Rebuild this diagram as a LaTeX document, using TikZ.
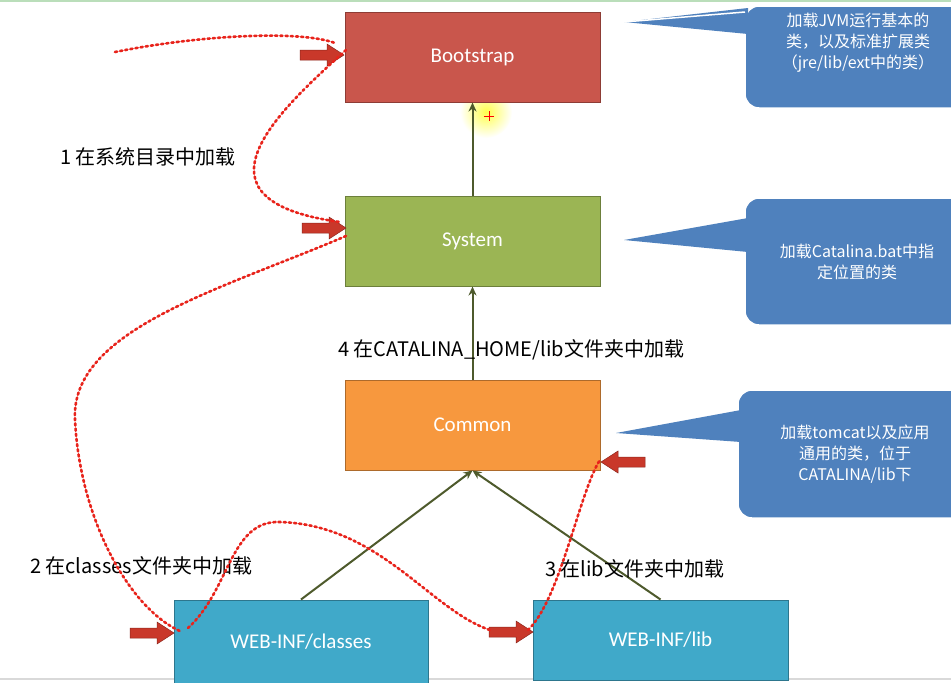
\documentclass[tikz,border=0pt]{standalone}
\usepackage{fontspec}
\setmainfont{Noto Sans CJK SC}
\newfontfamily\lat{Carlito}
\usetikzlibrary{arrows.meta}
\definecolor{bred}{HTML}{C9564C}
\definecolor{bgreen}{HTML}{9BB554}
\definecolor{borange}{HTML}{F7983E}
\definecolor{bteal}{HTML}{40A9C9}
\definecolor{cblue}{HTML}{4F81BD}
\definecolor{lnk}{HTML}{4E5A2C}
\definecolor{dotred}{HTML}{E8231B}
\definecolor{arred}{HTML}{C9382A}
\begin{document}
\begin{tikzpicture}[x=1pt,y=-1pt,
  box/.style={draw=#1!70!black,line width=1pt,fill=#1,minimum width=255pt,text=white,font=\lat\fontsize{21}{24}\selectfont,inner sep=0pt},
  link/.style={draw=lnk,line width=2pt,-{Stealth[length=9pt,width=8pt]}},
  lbl/.style={font=\fontsize{20}{24}\selectfont,inner sep=0pt,anchor=west},
  ctext/.style={font=\fontsize{16}{21}\selectfont,text=white,align=center},
  dots/.style={draw=dotred,line width=2.6pt,dash pattern=on 2.2pt off 3pt,line cap=round},
  callout/.style={fill=cblue,draw=white,line width=1.5pt,rounded corners=14pt},
  pics/barrow/.style={code={\fill[arred,draw=arred!70!black,line width=0.5pt] (0,-5)--(27,-5)--(27,-11)--(44,0)--(27,11)--(27,5)--(0,5)--cycle;}}]
\useasboundingbox (0,0) rectangle (951,683);
\fill[white] (0,0) rectangle (951,683);
\draw[green!35!gray!40,line width=2pt] (0,1)--(951,1);
\draw[gray!30,line width=2pt] (0,679)--(951,679);
% glow
\shade[inner color=yellow!70,outer color=white] (486,112) circle (26);
\draw[red,line width=0.8pt] (484,116)--(494,116) (489,111)--(489,121);
% boxes
\node[box=bred,minimum height=90pt] (boot) at (472.5,57) {Bootstrap};
\node[box=bgreen,minimum height=90pt] (sys) at (472.5,241) {System};
\node[box=borange,minimum height=90pt] (com) at (472.5,425) {Common};
\node[box=bteal,minimum width=254pt,minimum height=84pt] (cls) at (301,642) {WEB-INF/classes};
\node[box=bteal,minimum width=255pt,minimum height=80pt] (lib) at (660.5,640) {WEB-INF/lib};
\draw[link] (sys.north) -- (boot.south);
\draw[link] (com.north) -- (sys.south);
\draw[link] (cls.north) ++(0,0) coordinate (cs) -- (com.south);
\draw[link] (lib.north) -- (com.south);
% labels
\node[lbl] (l1) at (60,157) {1 在系统目录中加载};
\node[lbl] (l4) at (338,350) {4 在CATALINA\_HOME/lib文件夹中加载};
\node[lbl] (l2) at (30,566) {2 在classes文件夹中加载};
\node[lbl] (l3) at (545,569) {3 在lib文件夹中加载};
% callouts
\fill[callout] (745,6) rectangle (975,108);
\fill[cblue] (624,22)--(748,8)--(748,34)--cycle;
\draw[white,line width=1.5pt] (624,22)--(745,12);
\node[ctext] (c1) at (858,43) {加载JVM运行基本的\\类，以及标准扩展类\\（jre/lib/ext中的类）};
\fill[callout] (745,198) rectangle (975,325);
\fill[cblue] (624,240)--(748,218)--(748,252)--cycle;
\node[ctext] (c2) at (857,262) {加载Catalina.bat中指\\定位置的类};
\fill[callout] (738,390) rectangle (975,518);
\fill[cblue] (616,433)--(741,410)--(741,442)--cycle;
\node[ctext] (c3) at (855,454) {加载tomcat以及应用\\通用的类，位于\\CATALINA/lib下};
% block arrows
\pic at (300,55) {barrow};
\pic at (302,228) {barrow};
\pic at (130,633) {barrow};
\pic at (489,632) {barrow};
\pic[rotate=180] at (645,462) {barrow};
% dotted paths
\coordinate (s1) at (115,52);
\coordinate (b1) at (335,43);
\coordinate (b2) at (346,50);
\coordinate (y1) at (340,222);
\coordinate (y2) at (346,236);
\coordinate (k1) at (182,632);
\coordinate (k2) at (188,628);
\coordinate (m1) at (490,630);
\coordinate (m2) at (528,630);
\coordinate (o1) at (600,460);
\draw[dots] (s1) .. controls (200,35) and (300,30) .. (b1);
\draw[dots] (b2) .. controls (280,110) and (180,200) .. (y1);
\draw[dots] (y2) .. controls (220,290) and (70,330) .. (75,420) .. controls (80,520) and (130,610) .. (k1);
\draw[dots] (k2) .. controls (230,590) and (230,520) .. (280,522) .. controls (380,525) and (430,610) .. (m1);
\draw[dots] (m2) .. controls (560,600) and (580,490) .. (o1);
\end{tikzpicture}
\end{document}
